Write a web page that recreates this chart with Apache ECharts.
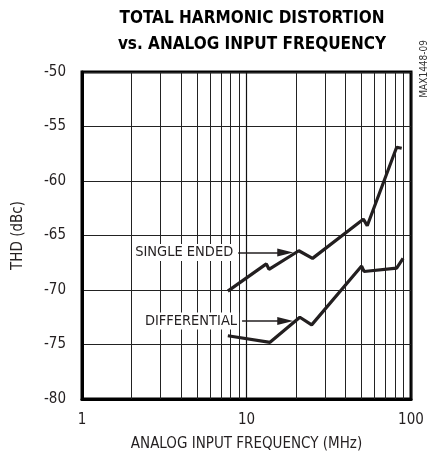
<!DOCTYPE html>
<html>
<head>
<meta charset="utf-8">
<script src="https://cdn.jsdelivr.net/npm/echarts@6/dist/echarts.min.js"></script>
<style>
html,body{margin:0;padding:0;background:#fff;}
#c{width:430px;height:457px;}
</style>
</head>
<body>
<div id="c"></div>
<script>
// Data
const singleEndedX = [7.7, 13.2, 13.7, 20.8, 25.2, 51.3, 54.2, 81.8, 87.8];
const singleEndedY = [-70.1, -67.6, -68.1, -66.4, -67.1, -63.5, -64.1, -56.9, -57.0];
const differentialX = [7.7, 13.9, 21.1, 24.9, 50.1, 51.8, 81.8, 89.5];
const differentialY = [-74.2, -74.8, -72.5, -73.2, -67.8, -68.3, -68.0, -67.1];
const minorGridX = [2, 3, 4, 5, 6, 7, 8, 9, 20, 30, 40, 50, 60, 70, 80, 90];
const seArrow = {label: 'SINGLE ENDED', x1: 8.9, x2: 17.2, y: -66.55};
const diffArrow = {label: 'DIFFERENTIAL', x1: 9.4, x2: 17.2, y: -72.85};
const xTicks = [1, 10, 100];
const yTicks = [-80, -75, -70, -65, -60, -55, -50];

const FONT = '"DejaVu Sans Condensed", "Liberation Sans", sans-serif';
const INK = '#231f20';

function zip(xs, ys){ return xs.map((x,i)=>[x, ys[i]]); }

function arrowLine(a){
  return {
    silent: true,
    symbol: ['none', 'triangle'],
    symbolSize: [8, 16],
    lineStyle: {color: INK, width: 1.5, type: 'solid'},
    label: {
      show: true, position: 'start', formatter: a.label,
      fontFamily: FONT, fontSize: 14.5, color: INK,
      backgroundColor: '#fff', padding: [1, 2], distance: 3
    },
    data: [[{coord: [a.x1, a.y]}, {coord: [a.x2, a.y]}]]
  };
}

const chart = echarts.init(document.getElementById('c'), null, {renderer: 'canvas'});
chart.setOption({
  animation: false,
  backgroundColor: '#fff',
  title: {
    text: 'TOTAL HARMONIC DISTORTION\nvs. ANALOG INPUT FREQUENCY',
    left: 247, top: 1, textAlign: 'center',
    textStyle: {fontFamily: FONT, fontWeight: 'bold', fontSize: 17, lineHeight: 26, color: '#000'}
  },
  grid: {left: 82, right: 19, top: 72, bottom: 57, show: true, borderColor: '#000', borderWidth: 3, backgroundColor: 'transparent'},
  xAxis: {
    type: 'log', logBase: 10, min: xTicks[0], max: xTicks[xTicks.length-1],
    name: 'ANALOG INPUT FREQUENCY (MHz)', nameLocation: 'middle', nameGap: 38,
    nameTextStyle: {fontFamily: FONT, fontSize: 15, color: INK},
    axisLine: {show: true, lineStyle: {color: '#000', width: 3}},
    axisTick: {show: false},
    axisLabel: {fontFamily: FONT, fontSize: 15, color: INK, margin: 14},
    splitLine: {show: true, lineStyle: {color: '#111', width: 1.2}}
  },
  yAxis: {
    type: 'value', min: yTicks[0], max: yTicks[yTicks.length-1], interval: 5,
    name: 'THD (dBc)', nameLocation: 'middle', nameGap: 56, nameRotate: 90,
    nameTextStyle: {fontFamily: FONT, fontSize: 15, color: INK},
    axisLine: {show: true, lineStyle: {color: '#000', width: 3}},
    axisTick: {show: false},
    axisLabel: {fontFamily: FONT, fontSize: 15, color: INK, margin: 16},
    splitLine: {show: true, lineStyle: {color: '#222', width: 1}}
  },
  graphic: [{
    type: 'text', left: 419, top: 40, rotation: Math.PI/2,
    style: {text: 'MAX1448-09', font: '10px "DejaVu Sans Condensed", sans-serif', fill: '#333', textAlign: 'right', textVerticalAlign: 'top'}
  }],
  series: [
    {
      type: 'line', data: [], silent: true,
      markLine: {
        silent: true, symbol: 'none', animation: false,
        lineStyle: {color: '#222', width: 1, type: 'solid'},
        label: {show: false},
        data: minorGridX.map(v => ({xAxis: v}))
      }
    },
    {
      name: 'Single Ended', type: 'line', data: zip(singleEndedX, singleEndedY),
      showSymbol: false, lineStyle: {color: INK, width: 3.2}, z: 5,
      markLine: arrowLine(seArrow)
    },
    {
      name: 'Differential', type: 'line', data: zip(differentialX, differentialY),
      showSymbol: false, lineStyle: {color: INK, width: 3.2}, z: 5,
      markLine: arrowLine(diffArrow)
    }
  ]
});
</script>
</body>
</html>
